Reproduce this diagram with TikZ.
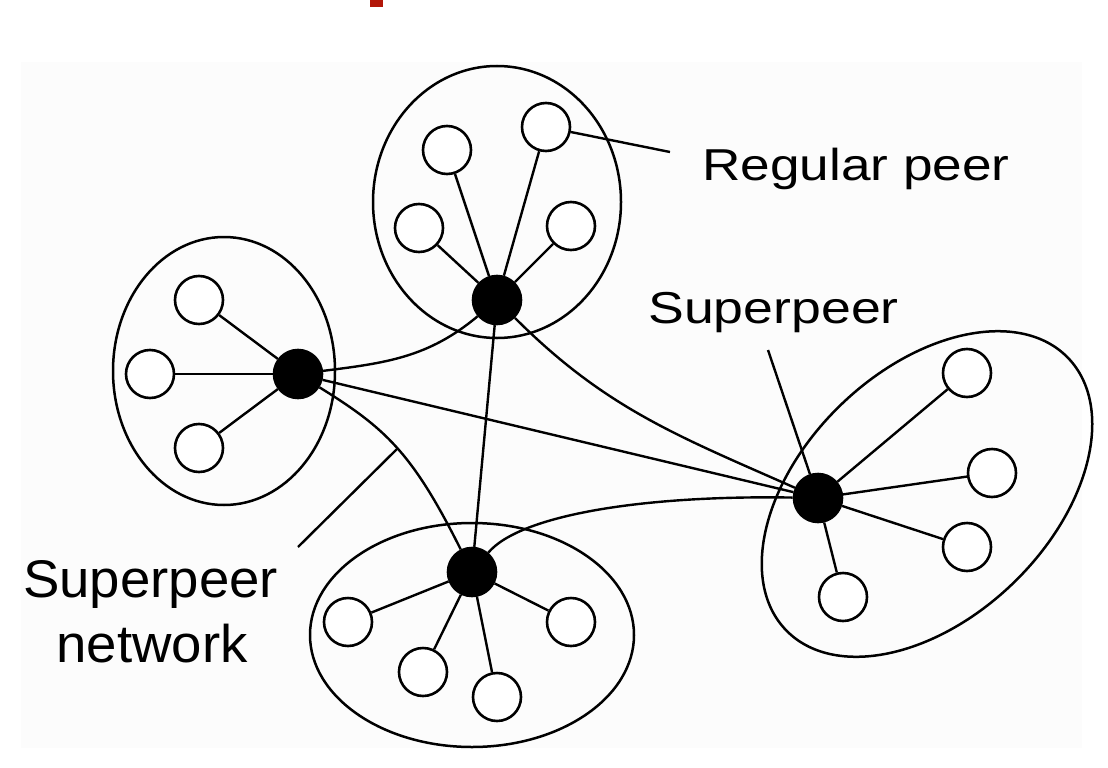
\documentclass[tikz,border=0pt]{standalone}
\usepackage{fontspec}
\setmainfont{Liberation Sans}
\usepackage{graphicx}
\definecolor{panel}{RGB}{252,252,252}
\definecolor{redmark}{RGB}{178,22,8}
\begin{document}
\begin{tikzpicture}[x=1pt,y=1pt,line width=2.6pt,
  peer/.style={circle,draw,fill=white,minimum size=48pt,inner sep=0pt},
  super/.style={circle,draw,fill=black,minimum size=48pt,inner sep=0pt},
  link/.style={line width=2.4pt},
  cluster/.style={line width=2.5pt},
  lbl/.style={inner sep=0pt,font=\fontsize{44.7}{54}\selectfont},
  biglbl/.style={inner sep=0pt,font=\fontsize{53}{65}\selectfont}]
\useasboundingbox (0,0) rectangle (1108,-768);
\fill[panel] (21,-62) rectangle (1082,-748);
\fill[redmark] (370,0) rectangle (383,-7);
% clusters
\draw[cluster] (224,-371) ellipse [x radius=111, y radius=134];
\draw[cluster] (497,-202) ellipse [x radius=124, y radius=136];
\draw[cluster] (472,-635) ellipse [x radius=162, y radius=112];
\draw[cluster,rotate around={44:(927,-494)}] (927,-494) ellipse [x radius=196, y radius=124];
% left cluster
\node[super] (lsp) at (298,-374) {};
\node[peer] (lp1) at (199,-300) {};
\node[peer] (lp2) at (150,-374) {};
\node[peer] (lp3) at (199,-448) {};
% top cluster
\node[super] (tsp) at (497,-300) {};
\node[peer] (tp1) at (447,-150) {};
\node[peer] (tp2) at (546,-127) {};
\node[peer] (tp3) at (419,-228) {};
\node[peer] (tp4) at (571,-226) {};
% bottom cluster
\node[super] (bsp) at (472,-572) {};
\node[peer] (bp1) at (348,-622) {};
\node[peer] (bp2) at (423,-672) {};
\node[peer] (bp3) at (497,-697) {};
\node[peer] (bp4) at (571,-622) {};
% right cluster
\node[super] (rsp) at (818,-498) {};
\node[peer] (rp1) at (967,-373) {};
\node[peer] (rp2) at (992,-473) {};
\node[peer] (rp3) at (967,-547) {};
\node[peer] (rp4) at (843,-597) {};
% cluster links
\foreach \p in {lp1,lp2,lp3} \draw[link] (lsp) -- (\p);
\foreach \p in {tp1,tp2,tp3,tp4} \draw[link] (tsp) -- (\p);
\foreach \p in {bp1,bp2,bp3,bp4} \draw[link] (bsp) -- (\p);
\foreach \p in {rp1,rp2,rp3,rp4} \draw[link] (rsp) -- (\p);
% superpeer network
\draw[link] (lsp) .. controls (386,-363) and (428.6,-357.4) .. (tsp);
\draw[link] (lsp) .. controls (385,-428) and (412,-452) .. (bsp);
\draw[link] (tsp) .. controls (605.6,-408.6) and (678,-436) .. (rsp);
\draw[link] (bsp) .. controls (520,-515) and (643,-495) .. (rsp);
\draw[link] (lsp) -- (rsp);
\draw[link] (tsp) -- (bsp);
% labels
\coordinate (rpend) at (670,-152);
\draw[link] (tp2) -- (rpend);
\coordinate (spend) at (768,-350);
\draw[link] (spend) -- (rsp);
\coordinate (netA) at (397,-449);
\coordinate (netB) at (298,-547);
\draw[link] (netA) -- (netB);
\node[lbl,anchor=base west] (reglbl) at (701,-180) {\scalebox{1.19}[1]{Regular peer}};
\node[lbl,anchor=base west] (suplbl) at (647,-323) {\scalebox{1.2}[1]{Superpeer}};
\node[biglbl,anchor=base] (netlbl1) at (150.5,-597) {\scalebox{1.03}[1]{Superpeer}};
\node[biglbl,anchor=base] (netlbl2) at (152,-662) {\scalebox{1.03}[1]{network}};
\end{tikzpicture}
\end{document}
